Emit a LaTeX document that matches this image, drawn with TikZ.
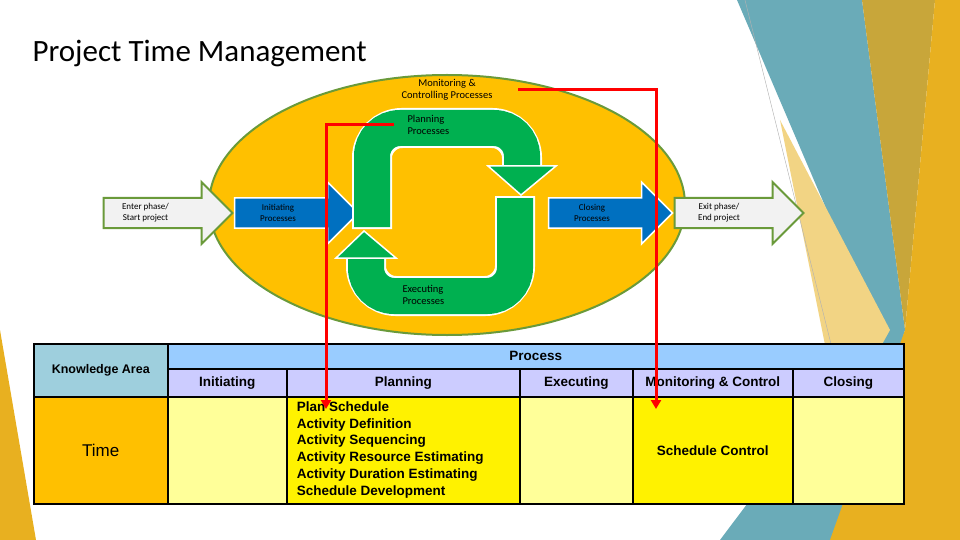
\documentclass[tikz,border=0pt]{standalone}
\usepackage{fontspec}
\setmainfont{Carlito}
\newfontfamily\arialfont{Liberation Sans}
\usetikzlibrary{positioning,calc,shapes.arrows,shapes.geometric,arrows.meta}

\definecolor{ptmorange}{HTML}{FFC000}
\definecolor{ptmgreen}{HTML}{00B050}
\definecolor{ptmblue}{HTML}{0070C0}
\definecolor{ptmrim}{HTML}{6A9A3A}
\definecolor{ptmteal}{HTML}{6AABB8}
\definecolor{ptmgold}{HTML}{E8B020}
\definecolor{ptmochre}{HTML}{C8A63A}
\definecolor{ptmhead}{HTML}{99CCFF}
\definecolor{ptmsub}{HTML}{CCCCFF}
\definecolor{ptmka}{HTML}{9ECFDD}
\definecolor{ptmpale}{HTML}{FFFF99}

\begin{document}
\begin{tikzpicture}[x=1pt,y=-1pt,
	cell/.style={draw=black, line width=1.5pt, anchor=north west, inner sep=0pt,
		font=\arialfont\bfseries\fontsize{13.5}{15}\selectfont},
	phase/.style={single arrow, draw=ptmrim, line width=2pt, fill=black!5,
		single arrow head extend=11pt, minimum height=129pt, minimum width=62pt,
		inner sep=0pt, font=\fontsize{9}{11}\selectfont, align=center},
	proc/.style={single arrow, draw=white, line width=1.5pt, fill=ptmblue,
		single arrow head extend=10pt, minimum height=124pt, minimum width=62pt,
		inner sep=0pt, font=\fontsize{9}{11}\selectfont, align=center},
	cycle/.style={line width=36pt, ptmgreen, rounded corners=28pt},
	cyclerim/.style={line width=40pt, white, rounded corners=30pt},
	link/.style={draw=red, line width=3pt, -{Triangle[length=9pt,width=10pt]}},
	lbl/.style={font=\fontsize{10.5}{12}\selectfont, align=left}
	]
\useasboundingbox (0,0) rectangle (960,540);

% background
\fill[ptmteal] (737,0) -- (862,0) -- (905,330) -- (845,540) -- (720,540) -- (878,330) -- cycle;
\fill[ptmgold!55!white] (780,120) -- (890,330) -- (840,420) -- cycle;
\fill[ptmochre] (862,0) -- (935,0) -- (905,330) -- cycle;
\fill[ptmgold] (935,0) -- (960,0) -- (960,540) -- (830,540) -- (905,330) -- cycle;
\fill[ptmgold] (0,330) -- (0,540) -- (36,540) -- cycle;
\draw[black!30, thin] (745,0) -- (850,420);

\node[font=\fontsize{31}{34}\selectfont, anchor=west] (title) at (29,54) {Project Time Management};

% process group
\node[ellipse, draw=ptmrim, line width=2pt, fill=ptmorange, minimum width=476pt,
	minimum height=260pt, inner sep=0pt] (group) at (447,205) {};
\node[phase] (enter) at (160.5,213) {\hspace*{-30pt}Enter phase/\\\hspace*{-30pt}Start project};
\node[phase] (exit) at (731.5,213) {\hspace*{-25pt}Exit phase/\\\hspace*{-25pt}End project};
\node[proc] (init) at (289,213) {\hspace*{-22pt}Initiating\\\hspace*{-22pt}Processes};
\node[proc] (close) at (603,213) {\hspace*{-22pt}Closing\\\hspace*{-22pt}Processes};

% cycle
\draw[cyclerim] (372,229) -- (372,128) -- (522,128) -- (522,168);
\draw[cycle] (372,227) -- (372,128) -- (522,128) -- (522,170);
\fill[ptmgreen, draw=white, line width=1.5pt] (488,166) -- (556,166) -- (521,195) -- cycle;
\draw[cyclerim] (515,196) -- (515,296) -- (366,296) -- (366,256);
\draw[cycle] (515,198) -- (515,296) -- (366,296) -- (366,254);
\fill[ptmgreen, draw=white, line width=1.5pt] (336,258) -- (396,258) -- (364,231) -- cycle;

\node[lbl, align=center] (mc) at (447,90) {Monitoring \&\\Controlling Processes};
\node[lbl, anchor=west] (plan) at (404,125) {Planning\\Processes};
\node[lbl, anchor=west] (exec) at (399,295) {Executing\\Processes};

% table
\node[cell, fill=ptmka, minimum width=134pt, minimum height=53pt] (ka) at (33,343) {};
\node[font=\arialfont\bfseries\fontsize{12.5}{15}\selectfont] (katext) at (ka.center) {Knowledge Area};
\node[cell, fill=ptmhead, minimum width=736pt, minimum height=25pt] (proc) at (167,343) {Process};
\node[cell, fill=ptmsub, minimum width=119pt, minimum height=28pt] (hinit) at (167,368) {Initiating};
\node[cell, fill=ptmsub, minimum width=233pt, minimum height=28pt] (hplan) at (286,368) {Planning};
\node[cell, fill=ptmsub, minimum width=113pt, minimum height=28pt] (hexec) at (519,368) {Executing};
\node[cell, fill=ptmsub, minimum width=160pt, minimum height=28pt] (hmon) at (632,368) {Monitoring \& Control};
\node[cell, fill=ptmsub, minimum width=111pt, minimum height=28pt] (hclose) at (792,368) {Closing};
\node[cell, fill=ptmorange, minimum width=134pt, minimum height=107pt, font=\arialfont\fontsize{17}{19}\selectfont] (time) at (33,396) {Time};
\node[cell, fill=ptmpale, minimum width=119pt, minimum height=107pt] (binit) at (167,396) {};
\node[cell, fill=yellow, minimum width=233pt, minimum height=107pt] (bplan) at (286,396) {};
\node[cell, fill=ptmpale, minimum width=113pt, minimum height=107pt] (bexec) at (519,396) {};
\node[cell, fill=yellow, minimum width=160pt, minimum height=107pt] (bmon) at (632,396) {Schedule Control};
\node[cell, draw=none, fill=ptmpale, minimum width=111pt, minimum height=107pt, draw=black] (bclose) at (792,396) {};
\node[cell, draw=none, align=left, font=\arialfont\bfseries\fontsize{13.5}{16.7}\selectfont] (plist) at (296,401)
	{Plan Schedule\\Activity Definition\\Activity Sequencing\\Activity Resource Estimating\\Activity Duration Estimating\\Schedule Development};

% links
\coordinate (planfrom) at (394,125);
\coordinate (planto) at (326,409);
\coordinate (monfrom) at (518,90);
\coordinate (monto) at (656,409);
\draw[link] (planfrom) -| (planto);
\draw[link] (monfrom) -| (monto);
\end{tikzpicture}
\end{document}
